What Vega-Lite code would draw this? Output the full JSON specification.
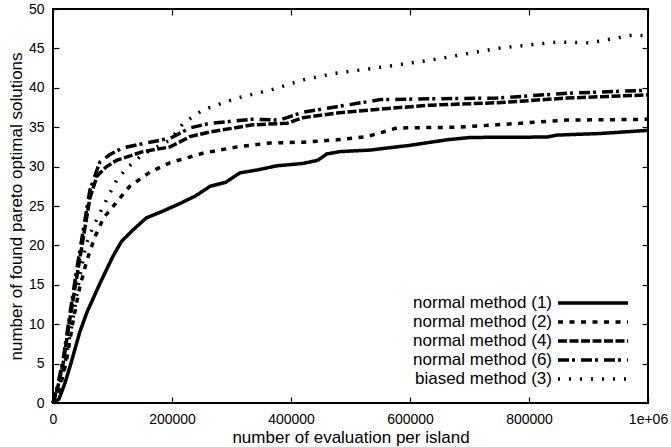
{
  "$schema": "https://vega.github.io/schema/vega-lite/v6.json",
  "width": 595,
  "height": 394,
  "autosize": {"type": "none"},
  "padding": {"left": 53, "top": 9, "right": 23, "bottom": 44},
  "background": "white",
  "config": {
    "font": "Liberation Sans",
    "view": {"stroke": "black", "strokeWidth": 2},
    "axis": {
      "domain": false, "grid": false, "tickSize": -6, "tickColor": "black", "tickWidth": 1.2,
      "labelFont": "Liberation Sans", "labelFontSize": 14, "labelColor": "black",
      "titleFont": "Liberation Sans", "titleFontSize": 17, "titleFontWeight": "normal", "titleColor": "black",
      "labelFlush": false, "labelOverlap": false
    }
  },
  "datasets": {
    "curves": [
      {"evals": 0, "solutions": 0, "series": "normal method (1)"},
      {"evals": 10000, "solutions": 0.5, "series": "normal method (1)"},
      {"evals": 20000, "solutions": 2.5, "series": "normal method (1)"},
      {"evals": 30000, "solutions": 5, "series": "normal method (1)"},
      {"evals": 45000, "solutions": 9, "series": "normal method (1)"},
      {"evals": 57000, "solutions": 11.5, "series": "normal method (1)"},
      {"evals": 79000, "solutions": 15.2, "series": "normal method (1)"},
      {"evals": 100000, "solutions": 18.5, "series": "normal method (1)"},
      {"evals": 115000, "solutions": 20.5, "series": "normal method (1)"},
      {"evals": 135000, "solutions": 22, "series": "normal method (1)"},
      {"evals": 157000, "solutions": 23.5, "series": "normal method (1)"},
      {"evals": 180000, "solutions": 24.2, "series": "normal method (1)"},
      {"evals": 213000, "solutions": 25.3, "series": "normal method (1)"},
      {"evals": 240000, "solutions": 26.3, "series": "normal method (1)"},
      {"evals": 264000, "solutions": 27.5, "series": "normal method (1)"},
      {"evals": 290000, "solutions": 28, "series": "normal method (1)"},
      {"evals": 314000, "solutions": 29.2, "series": "normal method (1)"},
      {"evals": 345000, "solutions": 29.6, "series": "normal method (1)"},
      {"evals": 376000, "solutions": 30.1, "series": "normal method (1)"},
      {"evals": 420000, "solutions": 30.4, "series": "normal method (1)"},
      {"evals": 445000, "solutions": 30.8, "series": "normal method (1)"},
      {"evals": 460000, "solutions": 31.6, "series": "normal method (1)"},
      {"evals": 482000, "solutions": 31.9, "series": "normal method (1)"},
      {"evals": 533000, "solutions": 32.1, "series": "normal method (1)"},
      {"evals": 600000, "solutions": 32.7, "series": "normal method (1)"},
      {"evals": 662000, "solutions": 33.4, "series": "normal method (1)"},
      {"evals": 701000, "solutions": 33.7, "series": "normal method (1)"},
      {"evals": 830000, "solutions": 33.75, "series": "normal method (1)"},
      {"evals": 847000, "solutions": 34.0, "series": "normal method (1)"},
      {"evals": 920000, "solutions": 34.2, "series": "normal method (1)"},
      {"evals": 1000000, "solutions": 34.6, "series": "normal method (1)"},

      {"evals": 0, "solutions": 0, "series": "normal method (2)"},
      {"evals": 12000, "solutions": 2, "series": "normal method (2)"},
      {"evals": 23000, "solutions": 5.5, "series": "normal method (2)"},
      {"evals": 34000, "solutions": 10.5, "series": "normal method (2)"},
      {"evals": 45000, "solutions": 14.7, "series": "normal method (2)"},
      {"evals": 57000, "solutions": 18.1, "series": "normal method (2)"},
      {"evals": 70000, "solutions": 21, "series": "normal method (2)"},
      {"evals": 85000, "solutions": 23.5, "series": "normal method (2)"},
      {"evals": 107000, "solutions": 25.5, "series": "normal method (2)"},
      {"evals": 129000, "solutions": 27.5, "series": "normal method (2)"},
      {"evals": 163000, "solutions": 29.3, "series": "normal method (2)"},
      {"evals": 197000, "solutions": 30.5, "series": "normal method (2)"},
      {"evals": 252000, "solutions": 31.7, "series": "normal method (2)"},
      {"evals": 309000, "solutions": 32.5, "series": "normal method (2)"},
      {"evals": 365000, "solutions": 33.0, "series": "normal method (2)"},
      {"evals": 420000, "solutions": 33.1, "series": "normal method (2)"},
      {"evals": 477000, "solutions": 33.4, "series": "normal method (2)"},
      {"evals": 527000, "solutions": 33.8, "series": "normal method (2)"},
      {"evals": 560000, "solutions": 34.5, "series": "normal method (2)"},
      {"evals": 578000, "solutions": 34.9, "series": "normal method (2)"},
      {"evals": 680000, "solutions": 35.0, "series": "normal method (2)"},
      {"evals": 746000, "solutions": 35.3, "series": "normal method (2)"},
      {"evals": 863000, "solutions": 35.9, "series": "normal method (2)"},
      {"evals": 1000000, "solutions": 36.0, "series": "normal method (2)"},

      {"evals": 0, "solutions": 0, "series": "normal method (4)"},
      {"evals": 8000, "solutions": 2, "series": "normal method (4)"},
      {"evals": 17000, "solutions": 5, "series": "normal method (4)"},
      {"evals": 28000, "solutions": 10.5, "series": "normal method (4)"},
      {"evals": 40000, "solutions": 16, "series": "normal method (4)"},
      {"evals": 51000, "solutions": 21, "series": "normal method (4)"},
      {"evals": 62000, "solutions": 26, "series": "normal method (4)"},
      {"evals": 74000, "solutions": 28.8, "series": "normal method (4)"},
      {"evals": 90000, "solutions": 30, "series": "normal method (4)"},
      {"evals": 107000, "solutions": 30.8, "series": "normal method (4)"},
      {"evals": 151000, "solutions": 31.9, "series": "normal method (4)"},
      {"evals": 197000, "solutions": 32.5, "series": "normal method (4)"},
      {"evals": 230000, "solutions": 33.8, "series": "normal method (4)"},
      {"evals": 264000, "solutions": 34.4, "series": "normal method (4)"},
      {"evals": 336000, "solutions": 35.3, "series": "normal method (4)"},
      {"evals": 393000, "solutions": 35.5, "series": "normal method (4)"},
      {"evals": 420000, "solutions": 36.2, "series": "normal method (4)"},
      {"evals": 477000, "solutions": 36.8, "series": "normal method (4)"},
      {"evals": 550000, "solutions": 37.3, "series": "normal method (4)"},
      {"evals": 634000, "solutions": 37.8, "series": "normal method (4)"},
      {"evals": 746000, "solutions": 38.1, "series": "normal method (4)"},
      {"evals": 864000, "solutions": 38.7, "series": "normal method (4)"},
      {"evals": 1000000, "solutions": 39.1, "series": "normal method (4)"},

      {"evals": 0, "solutions": 0, "series": "normal method (6)"},
      {"evals": 7000, "solutions": 2, "series": "normal method (6)"},
      {"evals": 17000, "solutions": 5.5, "series": "normal method (6)"},
      {"evals": 28600, "solutions": 11.4, "series": "normal method (6)"},
      {"evals": 40000, "solutions": 17, "series": "normal method (6)"},
      {"evals": 51000, "solutions": 22, "series": "normal method (6)"},
      {"evals": 62000, "solutions": 27, "series": "normal method (6)"},
      {"evals": 74000, "solutions": 29.6, "series": "normal method (6)"},
      {"evals": 79000, "solutions": 30.6, "series": "normal method (6)"},
      {"evals": 95000, "solutions": 31.5, "series": "normal method (6)"},
      {"evals": 118000, "solutions": 32.4, "series": "normal method (6)"},
      {"evals": 163000, "solutions": 33.1, "series": "normal method (6)"},
      {"evals": 197000, "solutions": 33.6, "series": "normal method (6)"},
      {"evals": 230000, "solutions": 34.9, "series": "normal method (6)"},
      {"evals": 264000, "solutions": 35.5, "series": "normal method (6)"},
      {"evals": 336000, "solutions": 36.0, "series": "normal method (6)"},
      {"evals": 381000, "solutions": 35.9, "series": "normal method (6)"},
      {"evals": 420000, "solutions": 36.9, "series": "normal method (6)"},
      {"evals": 477000, "solutions": 37.6, "series": "normal method (6)"},
      {"evals": 550000, "solutions": 38.5, "series": "normal method (6)"},
      {"evals": 634000, "solutions": 38.6, "series": "normal method (6)"},
      {"evals": 746000, "solutions": 38.7, "series": "normal method (6)"},
      {"evals": 864000, "solutions": 39.3, "series": "normal method (6)"},
      {"evals": 1000000, "solutions": 39.7, "series": "normal method (6)"},

      {"evals": 0, "solutions": 0, "series": "biased method (3)"},
      {"evals": 10000, "solutions": 2, "series": "biased method (3)"},
      {"evals": 20000, "solutions": 5, "series": "biased method (3)"},
      {"evals": 32000, "solutions": 10, "series": "biased method (3)"},
      {"evals": 45000, "solutions": 16, "series": "biased method (3)"},
      {"evals": 55000, "solutions": 20, "series": "biased method (3)"},
      {"evals": 67000, "solutions": 22.3, "series": "biased method (3)"},
      {"evals": 84000, "solutions": 24.9, "series": "biased method (3)"},
      {"evals": 107000, "solutions": 28.3, "series": "biased method (3)"},
      {"evals": 124000, "solutions": 29.8, "series": "biased method (3)"},
      {"evals": 150000, "solutions": 31.5, "series": "biased method (3)"},
      {"evals": 175000, "solutions": 32.5, "series": "biased method (3)"},
      {"evals": 197000, "solutions": 33.4, "series": "biased method (3)"},
      {"evals": 219000, "solutions": 35.5, "series": "biased method (3)"},
      {"evals": 252000, "solutions": 37.2, "series": "biased method (3)"},
      {"evals": 309000, "solutions": 38.7, "series": "biased method (3)"},
      {"evals": 365000, "solutions": 39.7, "series": "biased method (3)"},
      {"evals": 420000, "solutions": 41.0, "series": "biased method (3)"},
      {"evals": 471000, "solutions": 41.8, "series": "biased method (3)"},
      {"evals": 550000, "solutions": 42.6, "series": "biased method (3)"},
      {"evals": 634000, "solutions": 43.5, "series": "biased method (3)"},
      {"evals": 746000, "solutions": 45.0, "series": "biased method (3)"},
      {"evals": 847000, "solutions": 45.8, "series": "biased method (3)"},
      {"evals": 902000, "solutions": 45.7, "series": "biased method (3)"},
      {"evals": 975000, "solutions": 46.7, "series": "biased method (3)"},
      {"evals": 1000000, "solutions": 46.6, "series": "biased method (3)"}
    ]
  },
  "data": {"name": "curves"},
  "layer": [
    {
      "mark": {"type": "line", "strokeWidth": 3.5, "color": "black"},
      "encoding": {
        "x": {
          "field": "evals", "type": "quantitative",
          "scale": {"domain": [0, 1000000], "nice": false, "zero": false},
          "axis": {
            "orient": "bottom",
            "values": [0, 200000, 400000, 600000, 800000, 1000000],
            "labelExpr": "datum.value == 1000000 ? '1e+06' : format(datum.value, 'd')",
            "labelBaseline": "alphabetic", "labelPadding": 26,
            "title": "number of evaluation per island",
            "titleX": 297.5, "titleY": 39, "titleBaseline": "alphabetic", "titleAlign": "center"
          }
        },
        "y": {
          "field": "solutions", "type": "quantitative",
          "scale": {"domain": [0, 50], "nice": false},
          "axis": {
            "orient": "left",
            "values": [0, 5, 10, 15, 20, 25, 30, 35, 40, 45, 50],
            "labelPadding": 15,
            "title": "number of found pareto optimal solutions",
            "titleX": -31.5, "titleY": 197, "titleAngle": 270, "titleBaseline": "alphabetic", "titleAlign": "center"
          }
        },
        "strokeDash": {
          "field": "series", "type": "nominal",
          "scale": {
            "domain": ["normal method (1)", "normal method (2)", "normal method (4)", "normal method (6)", "biased method (3)"],
            "range": [[1, 0], [5, 6.5], [9, 2.5], [11, 3, 3, 6], [2, 9]]
          },
          "legend": {
            "orient": "none", "legendX": 531.5, "legendY": 285.5, "title": null,
            "symbolType": "M-7,0H7", "symbolSize": 100, "symbolStrokeWidth": 3.5,
            "symbolStrokeColor": "black",
            "labelFont": "Liberation Sans", "labelFontSize": 17, "labelColor": "black",
            "labelAlign": "right", "labelOffset": -49.5, "labelLimit": 0,
            "rowPadding": 1, "padding": 0
          }
        }
      }
    },
    {
      "mark": {"type": "line", "strokeOpacity": 0},
      "encoding": {
        "x": {
          "field": "evals", "type": "quantitative",
          "scale": {"domain": [0, 1000000], "nice": false, "zero": false},
          "axis": {"orient": "top", "values": [0, 200000, 400000, 600000, 800000, 1000000], "labels": false, "title": null}
        },
        "y": {
          "field": "solutions", "type": "quantitative",
          "scale": {"domain": [0, 50], "nice": false},
          "axis": {"orient": "right", "values": [0, 5, 10, 15, 20, 25, 30, 35, 40, 45, 50], "labels": false, "title": null}
        },
        "detail": {"field": "series"}
      }
    }
  ],
  "resolve": {"axis": {"x": "independent", "y": "independent"}}
}
